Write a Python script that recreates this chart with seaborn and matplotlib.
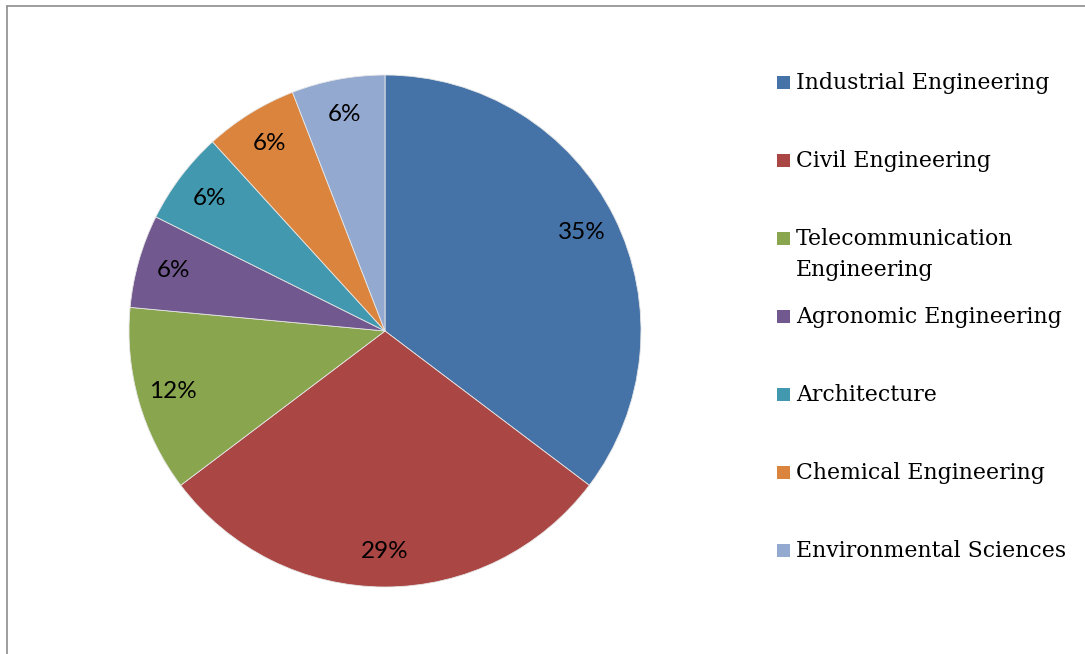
import matplotlib
matplotlib.use("Agg")
import matplotlib.pyplot as plt
import seaborn as sns
from matplotlib.patches import Rectangle
from matplotlib.lines import Line2D

# data
categories = ["Industrial Engineering", "Civil Engineering", "Telecommunication\nEngineering",
              "Agronomic Engineering", "Architecture", "Chemical Engineering", "Environmental Sciences"]
counts = [6, 5, 2, 1, 1, 1, 1]
colors = ["#4572A7", "#AA4643", "#89A54E", "#71588F", "#4198AF", "#DB843D", "#93A9CF"]

sns.set_theme(style="white")
palette = sns.color_palette(colors)

W, H = 1085, 654
fig = plt.figure(figsize=(W / 100, H / 100), dpi=100)
fig.patch.set_facecolor("white")

# pie axes: center (385, 331), radius 256 px
cx, cy, r = 385, 331, 256
ax = fig.add_axes([(cx - r) / W, (H - cy - r) / H, 2 * r / W, 2 * r / H])
wedges, texts, autotexts = ax.pie(
    counts, colors=palette, startangle=90, counterclock=False,
    autopct=lambda p: f"{p:.0f}%", pctdistance=0.86, radius=1,
    wedgeprops=dict(edgecolor="#e6e6e6", linewidth=0.6),
    textprops=dict(family=["Lato", "DejaVu Sans"], fontsize=17.5, color="black"),
)
ax.set_xlim(-1, 1)
ax.set_ylim(-1, 1)
ax.set_aspect("equal")
ax.axis("off")

# legend drawn by hand, to keep Office-like row spacing
sq = 13
for i, (lab, col) in enumerate(zip(categories, palette)):
    yc = 82 + 78 * i
    fig.patches.append(Rectangle(((777) / W, (H - yc - sq / 2) / H), sq / W, sq / H,
                                 transform=fig.transFigure, facecolor=col, edgecolor="none"))
    fig.text(796 / W, (H - yc + 10) / H, lab, ha="left", va="top",
             family=["DejaVu Serif"], fontsize=15.8, color="black", linespacing=1.55)

# chart frame (only top and left edges visible)
fig.lines.append(Line2D([6.5 / W, 6.5 / W], [0, (H - 5.5) / H], transform=fig.transFigure,
                        color="#8c8c8c", linewidth=1.2))
fig.lines.append(Line2D([6.5 / W, 1], [(H - 5.5) / H, (H - 5.5) / H], transform=fig.transFigure,
                        color="#8c8c8c", linewidth=1.2))

fig.savefig("out.png", dpi=100)
